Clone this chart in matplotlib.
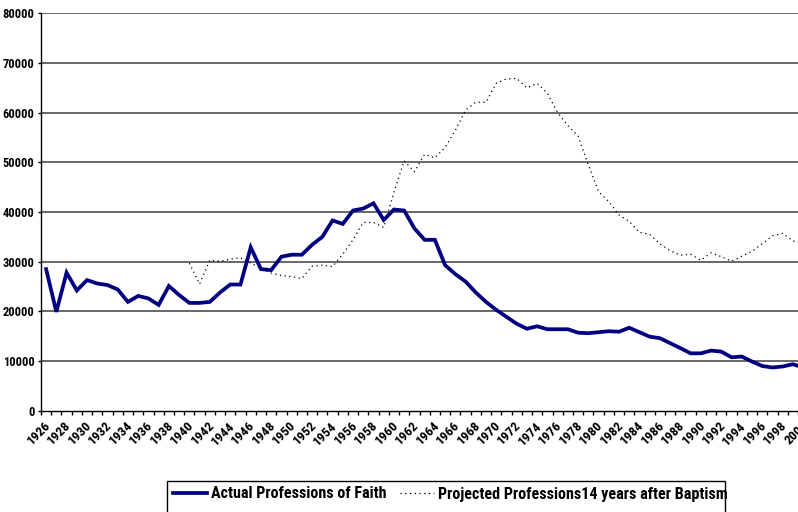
import numpy as np
import matplotlib
matplotlib.use("Agg")
import matplotlib.pyplot as plt
from matplotlib import font_manager
from matplotlib.patches import Rectangle
from matplotlib.transforms import ScaledTranslation

# ---------------- data ----------------
years = list(range(1926, 2001))
actual = [28500, 19900, 27800, 24200, 26300, 25600, 25300, 24400, 21900, 23100,
          22600, 21300, 25100, 23300, 21700, 21700, 21900, 23800, 25400, 25400,
          32900, 28500, 28300, 31000, 31400, 31400, 33400, 35000, 38300, 37600,
          40300, 40700, 41750, 38400, 40500, 40300, 36700, 34400, 34400, 29300,
          27500, 26000, 23800, 21900, 20300, 18900, 17500, 16500, 17000, 16400,
          16400, 16400, 15700, 15600, 15800, 16000, 15900, 16700, 15800, 14900,
          14600, 13600, 12600, 11550, 11550, 12100, 11900, 10750, 10900, 9900,
          9000, 8700, 8900, 9350, 8700]
proj_years = list(range(1940, 2001))
projected = [29700, 25500, 30300, 30100, 30500, 30800, 29700, 28700, 27700, 27200,
             27000, 26600, 29100, 29300, 29000, 31500, 34400, 37900, 37900, 36900,
             44000, 50300, 48100, 51600, 50900, 53000, 56400, 60500, 62100, 62100,
             65900, 66800, 66900, 65000, 65900, 63900, 60000, 57400, 55300, 49500,
             44100, 42100, 39400, 38100, 35900, 35500, 33600, 32200, 31300, 31500,
             30300, 31800, 31000, 30100, 31100, 32100, 33600, 35200, 35700, 34200,
             33500]
yticks = [0, 10000, 20000, 30000, 40000, 50000, 60000, 70000, 80000]
xlabels_years = list(range(1926, 2001, 2))
label_actual = "Actual Professions of Faith"
label_proj = "Projected Professions14 years after Baptism"

# ---------------- fonts ----------------
avail = {f.name for f in font_manager.fontManager.ttflist}
fam = None
for cand in ["Liberation Sans Narrow", "Arial Narrow", "Roboto Condensed",
             "DejaVu Sans Condensed", "Liberation Sans"]:
    if cand in avail:
        fam = cand
        break
if fam is None:
    fam = "DejaVu Sans"
plt.rcParams['font.family'] = [fam, 'DejaVu Sans']
plt.rcParams['font.weight'] = 'bold'

W, H = 798, 512
fig = plt.figure(figsize=(W / 100, H / 100), dpi=100)
fig.patch.set_facecolor('white')
renderer = fig.canvas.get_renderer()


def text_width(s, size):
    t = fig.text(0, 0, s, fontsize=size, fontweight='bold')
    w = t.get_window_extent(renderer).width
    t.remove()
    return w


leg_size = 12 * 176.0 / text_width(label_actual, 12)
leg_size = min(leg_size, 12.0)
ytick_size = 9.0
xtick_size = 9.6

left_px, top_px, bottom_px = 41.0, 13.3, 410.7
cat_w = 10.23
right_px = left_px + cat_w * len(years)
ax = fig.add_axes([left_px / W, (H - bottom_px) / H,
                   (right_px - left_px) / W, (bottom_px - top_px) / H])
ax.set_facecolor('white')

ax.set_xlim(years[0] - 0.5, years[-1] + 0.5)
ax.set_ylim(0, 80000)

# gridlines
ax.set_yticks(yticks)
for v in yticks[1:]:
    ax.axhline(v, color='#5c5c5c', lw=1.3, zorder=1)

ax.plot(proj_years, projected, color='black', lw=0.9,
        linestyle=(0, (1.0, 2.8)), zorder=3, label=label_proj)
ax.plot(years, actual, color='#000080', lw=2.7, solid_joinstyle='miter',
        zorder=4, label=label_actual)

for s in ['top', 'right']:
    ax.spines[s].set_visible(False)
for s in ['left', 'bottom']:
    ax.spines[s].set_color('black')
    ax.spines[s].set_linewidth(1.0)

ax.set_yticklabels([str(v) for v in yticks], fontsize=ytick_size, fontweight='bold')
ax.tick_params(axis='y', direction='out', length=2.5, width=1.0, pad=2.2)

# x ticks at category boundaries
bounds = np.arange(years[0] - 0.5, years[-1] + 1.0, 1.0)
ax.set_xticks(bounds)
ax.set_xticklabels([])
ax.tick_params(axis='x', which='major', direction='out', length=3.0, width=1.0)
ax.set_xticks(xlabels_years, minor=True)
ax.set_xticklabels([str(y) for y in xlabels_years], minor=True,
                   rotation=45, ha='right', va='top', rotation_mode='anchor',
                   fontsize=xtick_size, fontweight='bold')
ax.tick_params(axis='x', which='minor', length=0, pad=6)
off = ScaledTranslation(-2 / 100, 0, fig.dpi_scale_trans)
for lab in ax.get_xticklabels(minor=True):
    lab.set_transform(lab.get_transform() + off)

# legend
em_px = leg_size * 100 / 72.0
h, l = ax.get_legend_handles_labels()
order = [1, 0]
leg = fig.legend([h[i] for i in order], [l[i] for i in order], ncol=2,
                 loc='center left', bbox_to_anchor=(172.7 / W, 1 - 494 / H),
                 frameon=False, borderpad=0, borderaxespad=0,
                 handlelength=34.0 / em_px, handletextpad=4.5 / em_px,
                 columnspacing=13.0 / em_px,
                 prop={'size': leg_size, 'weight': 'bold'})
fig.add_artist(Rectangle((166.7 / W, (H - 530) / H), (725 - 166.7) / W,
                         (530 - 481.3) / H, transform=fig.transFigure,
                         fill=False, edgecolor='black', lw=1.0))

fig.savefig('out.png', dpi=100, facecolor='white')
